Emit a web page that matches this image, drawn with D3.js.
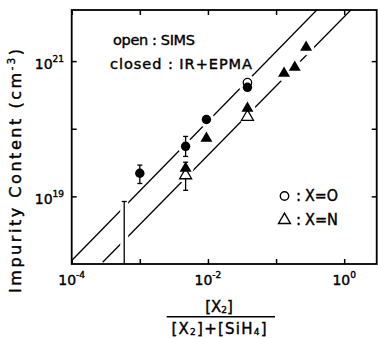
<!DOCTYPE html>
<html>
<head>
<meta charset="utf-8">
<script src="https://cdn.jsdelivr.net/npm/d3@7"></script>
<style>
  body { margin: 0; background: #fff; }
  svg { display: block; }
  text { font-family: "DejaVu Sans", "Liberation Sans", sans-serif; fill: #000; stroke: #000; stroke-width: 0.4px; }
</style>
</head>
<body>
<svg id="chart" width="378" height="338"></svg>
<script>
// X = O (oxygen), circles
const oFilledX = [1e-3, 4.7e-3, 9.5e-3, 0.038]
const oFilledY = [2.2e19, 5.5e19, 1.37e20, 4.1e20]
const oOpenX = [0.038]
const oOpenY = [4.8e20]

// X = N (nitrogen), triangles
const nFilledX = [4.7e-3, 9.5e-3, 0.038, 0.131, 0.188, 0.276]
const nFilledY = [2.6e19, 7.2e19, 2.0e20, 6.6e20, 8.1e20, 1.6e21]
const nOpenX = [4.7e-3, 0.038]
const nOpenY = [2.05e19, 1.5e20]

// error bars
const errX = [1e-3, 4.7e-3, 4.7e-3, 5.9e-4]
const errLo = [1.55e19, 3.9e19, 1.23e19, 1e18]
const errHi = [2.9e19, 7.7e19, 3.2e19, 8.4e18]

// guide lines (ends in data units)
const upperLine = [[1e-4, 1.127e18], [0.396, 5.7e21]]
const lowerLine = [[2.85e-4, 1.064e18], [1.25, 5.7e21]]

// ticks
const xTicks = [1e-4, 1e-3, 1e-2, 1e-1, 1]
const xLabelExp = ["-4", "-2", "0"]
const yTicks = [1e19, 1e20, 1e21]
const yLabelExp = ["19", "21"]

const svg = d3.select("#chart")
const pL = 71.7, pR = 376.7, pT = 10, pB = 264

const x = d3.scaleLog().domain([1e-4, 3]).range([pL, pR])
const y = d3.scaleLog().domain([1e18, 5.7e21]).range([pB, pT])

svg.append("clipPath").attr("id", "plot")
  .append("rect")
    .attr("x", pL).attr("y", pT)
    .attr("width", pR - pL).attr("height", pB - pT)

// inward ticks on all four sides
function tickAxis(axis, tx, ty) {
  const g = svg.append("g")
      .attr("transform", `translate(${tx},${ty})`)
      .call(axis.tickSizeOuter(0).tickFormat(() => ""))
  g.select(".domain").remove()
  g.selectAll(".tick line").attr("stroke", "#000").attr("stroke-width", 1.5)
}
tickAxis(d3.axisBottom(x).tickValues(xTicks).tickSizeInner(-5), 0, pB)
tickAxis(d3.axisTop(x).tickValues(xTicks).tickSizeInner(-5), 0, pT)
tickAxis(d3.axisLeft(y).tickValues(yTicks).tickSizeInner(-5), pL, 0)
tickAxis(d3.axisRight(y).tickValues(yTicks).tickSizeInner(-5), pR, 0)

// guide lines
const line = d3.line().x(d => x(d[0])).y(d => y(d[1]))
const lines = svg.append("g").attr("clip-path", "url(#plot)")
  .attr("fill", "none").attr("stroke", "#000").attr("stroke-width", 1.3)
lines.append("path").attr("d", line(upperLine))
lines.append("path").attr("d", line(lowerLine))

// white gaps round the marks
const halo = svg.append("g").attr("fill", "#fff")
const allX = oFilledX.concat(oOpenX, nFilledX, nOpenX)
const allY = oFilledY.concat(oOpenY, nFilledY, nOpenY)
halo.selectAll("circle").data(allX).join("circle")
    .attr("cx", d => x(d)).attr("cy", (d, i) => y(allY[i])).attr("r", 8)
svg.append("g").attr("stroke", "#fff").attr("stroke-width", 8)
  .selectAll("line").data(errX.slice(3)).join("line")
    .attr("x1", d => x(d)).attr("x2", d => x(d))
    .attr("y1", (d, i) => y(errLo[3 + i]) - 2).attr("y2", (d, i) => y(errHi[3 + i]))

// error bars
const eb = svg.append("g").attr("stroke", "#000").attr("stroke-width", 1.3)
errX.forEach((v, i) => {
  const cx = x(v), y1 = y(errLo[i]), y2 = y(errHi[i])
  eb.append("line").attr("x1", cx).attr("x2", cx).attr("y1", y1).attr("y2", y2)
  eb.append("line").attr("x1", cx - 2.5).attr("x2", cx + 2.5).attr("y1", y2).attr("y2", y2)
  if (i < 3) eb.append("line").attr("x1", cx - 2.5).attr("x2", cx + 2.5).attr("y1", y1).attr("y2", y1)
})

// marks: open first, filled on top
const tri = d3.symbol().type(d3.symbolTriangle).size(62)
svg.append("g").selectAll("path").data(nOpenX).join("path")
    .attr("d", tri)
    .attr("transform", (d, i) => `translate(${x(d)},${y(nOpenY[i])})`)
    .attr("fill", "#fff").attr("stroke", "#000").attr("stroke-width", 1.3)
svg.append("g").selectAll("circle").data(oOpenX).join("circle")
    .attr("cx", d => x(d)).attr("cy", (d, i) => y(oOpenY[i])).attr("r", 4.2)
    .attr("fill", "#fff").attr("stroke", "#000").attr("stroke-width", 1.3)
svg.append("g").selectAll("path").data(nFilledX).join("path")
    .attr("d", tri)
    .attr("transform", (d, i) => `translate(${x(d)},${y(nFilledY[i])})`)
    .attr("fill", "#000")
svg.append("g").selectAll("circle").data(oFilledX).join("circle")
    .attr("cx", d => x(d)).attr("cy", (d, i) => y(oFilledY[i])).attr("r", 4.7)
    .attr("fill", "#000")

// frame
svg.append("rect")
    .attr("x", pL).attr("y", pT)
    .attr("width", pR - pL).attr("height", pB - pT)
    .attr("fill", "none").attr("stroke", "#000").attr("stroke-width", 1.8)

// tick labels
function powText(sel) {
  sel.append("tspan").text("10")
  sel.append("tspan").attr("font-size", 9).attr("dy", -7).text(d => d)
}
svg.append("g").selectAll("text").data(xLabelExp).join("text")
    .attr("x", d => x(Math.pow(10, +d)))
    .attr("y", 285)
    .attr("text-anchor", "middle")
    .attr("font-size", 14)
    .call(powText)
svg.append("g").selectAll("text").data(yLabelExp).join("text")
    .attr("x", 64)
    .attr("y", d => y(Math.pow(10, +d)) + 8)
    .attr("text-anchor", "end")
    .attr("font-size", 14)
    .call(powText)

// legend texts
svg.append("text").attr("x", 113).attr("y", 45).attr("font-size", 14.5)
    .attr("textLength", 82).attr("lengthAdjust", "spacing")
    .text("open : SIMS")
svg.append("text").attr("x", 110).attr("y", 69).attr("font-size", 14.5)
    .attr("textLength", 142).attr("lengthAdjust", "spacing")
    .text("closed : IR+EPMA")

// legend for symbols
const keys = svg.append("g")
keys.append("circle").attr("cx", 284.5).attr("cy", 196).attr("r", 4.2)
    .attr("fill", "none").attr("stroke", "#000").attr("stroke-width", 1.4)
keys.append("path").attr("d", d3.symbol().type(d3.symbolTriangle).size(62)())
    .attr("transform", "translate(284.5,220)")
    .attr("fill", "none").attr("stroke", "#000").attr("stroke-width", 1.4)
keys.selectAll("text.colon").data([201, 225]).join("text")
    .attr("x", 296).attr("y", d => d).attr("font-size", 15).text(":")
keys.append("text").attr("x", 305).attr("y", 201).attr("font-size", 15)
    .attr("textLength", 33).attr("lengthAdjust", "spacingAndGlyphs")
    .text("X=O")
keys.append("text").attr("x", 305).attr("y", 225).attr("font-size", 15)
    .attr("textLength", 33).attr("lengthAdjust", "spacingAndGlyphs")
    .text("X=N")

// y title
const yt = svg.append("text")
    .attr("transform", "translate(21,171) rotate(-90)")
    .attr("text-anchor", "middle")
    .attr("font-size", 16)
    .attr("textLength", 244).attr("lengthAdjust", "spacing")
yt.append("tspan").text("Impurity  Content  (cm")
yt.append("tspan").attr("font-size", 10).attr("dy", -6).text("-3")
yt.append("tspan").attr("dy", 6).text(")")

// x title: fraction
const fx = 219
const num = svg.append("text").attr("x", fx).attr("y", 312).attr("text-anchor", "middle").attr("font-size", 15)
num.append("tspan").text("[X")
num.append("tspan").attr("font-size", 9).attr("dy", 1).text("2")
num.append("tspan").attr("dy", -1).text("]")
svg.append("line").attr("x1", 166.7).attr("x2", 275).attr("y1", 316.7).attr("y2", 316.7)
    .attr("stroke", "#000").attr("stroke-width", 1.5)
const den = svg.append("text").attr("x", fx).attr("y", 334).attr("text-anchor", "middle").attr("font-size", 15)
    .attr("textLength", 95).attr("lengthAdjust", "spacing")
den.append("tspan").text("[X")
den.append("tspan").attr("font-size", 9).attr("dy", 1).text("2")
den.append("tspan").attr("dy", -1).text("]+[SiH")
den.append("tspan").attr("font-size", 9).attr("dy", 1).text("4")
den.append("tspan").attr("dy", -1).text("]")
</script>
</body>
</html>
